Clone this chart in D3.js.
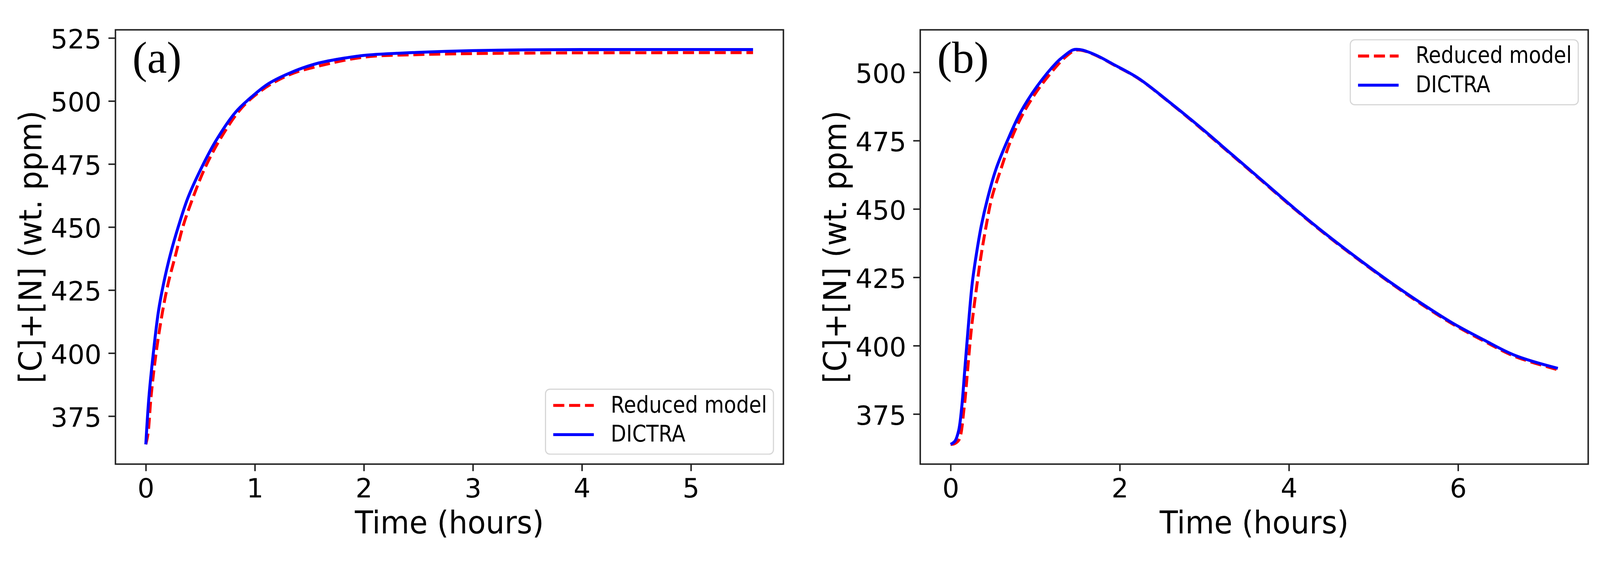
<!DOCTYPE html>
<html>
<head>
<meta charset="utf-8">
<script src="https://cdn.jsdelivr.net/npm/d3@7/dist/d3.min.js"></script>
<style>
  html, body { margin: 0; padding: 0; background: #fff; overflow: hidden; }
  svg { display: block; width: 100vw; height: 100vh; }
</style>
</head>
<body>
<svg id="chart" viewBox="0 0 4338 1451" preserveAspectRatio="xMidYMid meet"></svg>
<script>
// panel (a)
var timeA_dictra  = [0, 0.029, 0.068, 0.116, 0.164, 0.225, 0.30, 0.387, 0.505, 0.644, 0.824, 0.975, 1.126, 1.337, 1.563, 1.834, 2.03, 2.5, 3.0, 3.5, 4.0, 5.57];
var valA_dictra   = [363.8, 382.7, 399.6, 416.6, 427.8, 439.1, 450.4, 461.7, 473.0, 484.3, 495.6, 501.8, 506.9, 511.4, 514.8, 517.1, 518.2, 519.3, 520.0, 520.3, 520.4, 520.4];
var timeA_reduced = [0, 0.02, 0.048, 0.093, 0.154, 0.206, 0.274, 0.342, 0.433, 0.538, 0.674, 0.847, 0.975, 1.156, 1.352, 1.6, 2.0, 2.5, 3.0, 3.5, 4.0, 5.57];
var valA_reduced  = [363.8, 368.0, 382.7, 399.6, 416.6, 427.8, 439.1, 450.4, 461.7, 473.0, 484.3, 495.6, 501.3, 506.9, 511.0, 514.0, 517.4, 518.4, 518.8, 519.0, 519.1, 519.2];

// panel (b)
var timeB_dictra  = [0, 0.052, 0.095, 0.13, 0.169, 0.207, 0.256, 0.304, 0.362, 0.44, 0.537, 0.672, 0.828, 1.021, 1.254, 1.331, 1.448, 1.525, 1.622, 1.758, 1.913, 2.216, 2.587, 2.959, 3.331, 3.703, 4.074, 4.446, 4.818, 5.19, 5.561, 5.933, 6.305, 6.677, 7.18];
var valB_dictra   = [363.9, 365.1, 368.9, 377.0, 391.7, 406.2, 422.9, 433.3, 443.7, 454.2, 464.6, 475.0, 485.4, 494.8, 503.6, 505.7, 508.2, 508.3, 507.5, 505.7, 503.1, 497.9, 489.1, 479.7, 469.8, 459.9, 450.0, 440.6, 431.8, 423.4, 415.6, 408.3, 402.1, 396.4, 391.7];
var timeB_reduced = [0, 0.05, 0.1, 0.159, 0.203, 0.246, 0.314, 0.362, 0.42, 0.488, 0.595, 0.711, 0.866, 1.06, 1.293, 1.37, 1.46, 1.53, 1.622, 1.758, 1.913, 2.216, 2.587, 2.959, 3.331, 3.703, 4.074, 4.446, 4.818, 5.19, 5.561, 5.933, 6.305, 6.677, 7.18];
var valB_reduced  = [363.9, 364.2, 365.6, 377.0, 391.7, 406.2, 422.9, 433.3, 443.7, 454.2, 464.6, 475.0, 485.4, 494.8, 503.6, 505.9, 507.9, 508.1, 507.4, 505.6, 503.0, 497.8, 489.0, 479.5, 469.6, 459.7, 449.8, 440.4, 431.6, 423.2, 415.3, 408.0, 401.7, 396.0, 391.2];

var xTicksA = [0, 1, 2, 3, 4, 5];
var yTicksA = [375, 400, 425, 450, 475, 500, 525];
var xTicksB = [0, 2, 4, 6];
var yTicksB = [375, 400, 425, 450, 475, 500];

var seriesNames = ["Reduced model", "DICTRA"];
var panelTags = ["(a)", "(b)"];
var xTitle = "Time (hours)";
var yTitle = "[C]+[N] (wt. ppm)";

var svg = d3.select("#chart");
svg.append("rect").attr("width", 4338).attr("height", 1451).attr("fill", "#fff");

var plotTop = 38, plotBottom = 1215, plotW = 1811;
var sans = "'DejaVu Sans', 'Liberation Sans', sans-serif";
var ink = "#222";

function zip(t, v){
    return t.map(function(d, i){ return [d, v[i]]; });
}

// squeeze text a bit, the figure font runs narrower than DejaVu
function squeeze(sel, f){
    sel.each(function(){
        var len = this.getComputedTextLength();
        d3.select(this).attr("textLength", len * f).attr("lengthAdjust", "spacingAndGlyphs");
    });
}

function panel(left, tag, red, blue, xTicks, yTicks, legendAtTop){
    var g = svg.append("g");
    var all = red.concat(blue);
    var tMax = d3.max(all, function(d){ return d[0]; });
    var vExt = d3.extent(all, function(d){ return d[1]; });
    var padT = tMax * 0.05, padV = (vExt[1] - vExt[0]) * 0.05;

    var x = d3.scaleLinear().domain([-padT, tMax + padT]).range([left, left + plotW]);
    var y = d3.scaleLinear().domain([vExt[0] - padV, vExt[1] + padV]).range([plotBottom, plotTop]);

    var line = d3.line()
        .x(function(d){ return x(d[0]); })
        .y(function(d){ return y(d[1]); })
        .curve(d3.curveCatmullRom.alpha(0.5));

    g.append("path").attr("d", line(red))
        .attr("fill", "none").attr("stroke", "#ff0000").attr("stroke-width", 8)
        .attr("stroke-dasharray", "30,13");
    g.append("path").attr("d", line(blue))
        .attr("fill", "none").attr("stroke", "#0000ff").attr("stroke-width", 8);

    // axes
    var xa = g.append("g").attr("transform", "translate(0," + plotBottom + ")")
        .call(d3.axisBottom(x).tickValues(xTicks).tickFormat(d3.format("d")).tickSize(19).tickPadding(20).tickSizeOuter(0));
    var ya = g.append("g").attr("transform", "translate(" + left + ",0)")
        .call(d3.axisLeft(y).tickValues(yTicks).tickFormat(d3.format("d")).tickSize(19).tickPadding(19).tickSizeOuter(0));
    [xa, ya].forEach(function(a){
        a.select(".domain").remove();
        a.selectAll(".tick line").attr("stroke", ink).attr("stroke-width", 4);
        a.selectAll(".tick text").attr("fill", "#000").style("font-family", sans).style("font-size", "72px");
    });
    ya.selectAll(".tick text").attr("dy", "0.39em");

    g.append("rect")
        .attr("x", left).attr("y", plotTop)
        .attr("width", plotW).attr("height", plotBottom - plotTop)
        .attr("fill", "none").attr("stroke", ink).attr("stroke-width", 4);

    var xl = g.append("text")
        .attr("x", left + plotW / 2).attr("y", 1403)
        .attr("text-anchor", "middle")
        .style("font-family", sans).style("font-size", "84px")
        .text(xTitle);
    var yl = g.append("text")
        .attr("transform", "translate(" + (left - 201) + "," + ((plotTop + plotBottom) / 2) + ") rotate(-90)")
        .attr("text-anchor", "middle")
        .style("font-family", sans).style("font-size", "84px")
        .text(yTitle);
    squeeze(xl, 0.96);
    squeeze(yl, 0.975);

    g.append("text")
        .attr("x", left + 46).attr("y", 154)
        .style("font-family", "'Liberation Serif', 'Times New Roman', serif").style("font-size", "120px")
        .text(tag);

    // legend
    var lw = 618, lh = 176;
    var lx = left + plotW - 27 - lw;
    var ly = legendAtTop ? plotTop + 27 : plotBottom - 27 - lh;
    var leg = g.append("g").attr("transform", "translate(" + lx + "," + ly + ")");
    leg.append("rect").attr("width", lw).attr("height", lh).attr("rx", 12)
        .attr("fill", "#fff").attr("fill-opacity", 0.8)
        .attr("stroke", "#d6d6d6").attr("stroke-width", 3);
    var rows = [{dash: "30,13", color: "#ff0000"}, {dash: null, color: "#0000ff"}];
    rows.forEach(function(r, i){
        var ry = 44 + i * 79;
        leg.append("line").attr("x1", 21).attr("x2", 131).attr("y1", ry).attr("y2", ry)
            .attr("stroke", r.color).attr("stroke-width", 8)
            .attr("stroke-dasharray", r.dash);
        var t = leg.append("text").attr("x", 177).attr("y", ry + 19)
            .style("font-family", sans).style("font-size", "62px")
            .text(seriesNames[i]);
        squeeze(t, 0.88);
    });
}

panel(313, panelTags[0], zip(timeA_reduced, valA_reduced), zip(timeA_dictra, valA_dictra), xTicksA, yTicksA, false);
panel(2495, panelTags[1], zip(timeB_reduced, valB_reduced), zip(timeB_dictra, valB_dictra), xTicksB, yTicksB, true);
</script>
</body>
</html>
